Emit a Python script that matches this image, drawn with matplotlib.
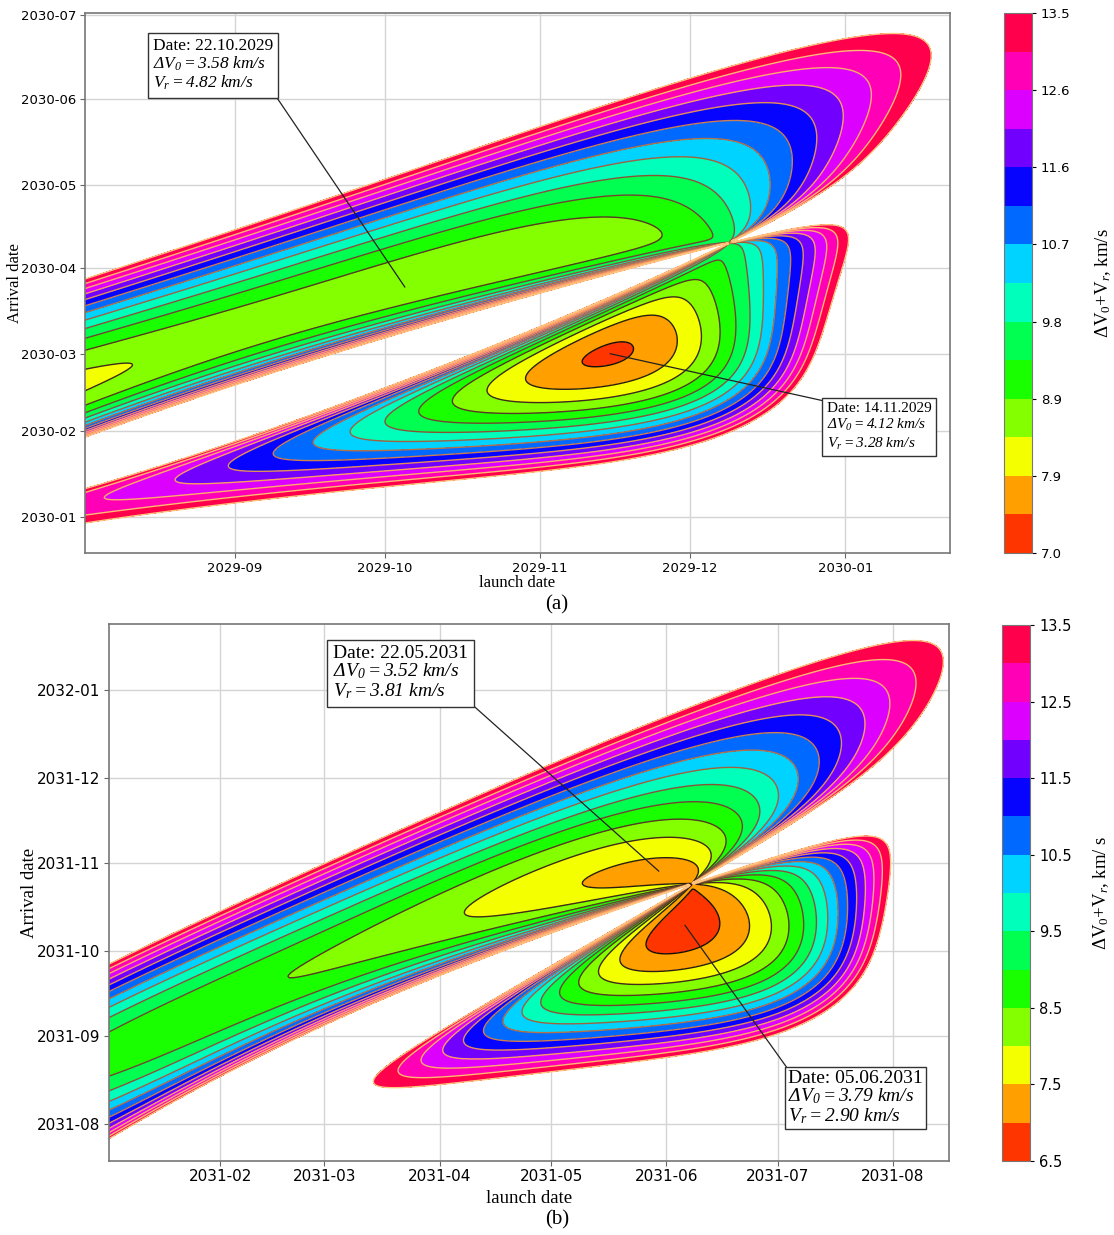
import numpy as np
import matplotlib
matplotlib.use('Agg')
import matplotlib.pyplot as plt
import matplotlib.dates as mdates

plt.rcParams['mathtext.fontset'] = 'custom'
plt.rcParams['mathtext.rm'] = 'Liberation Serif'
plt.rcParams['mathtext.it'] = 'Liberation Serif:italic'
plt.rcParams['mathtext.bf'] = 'Liberation Serif:italic'  # used for the all-italic note lines
plt.rcParams['font.size'] = 10

#### chart data (ranges, levels, ticks and labels)
launch_a = ['2029-08-02', '2030-01-22']
arrival_a = ['2029-12-19', '2030-07-02']
launch_b = ['2031-01-02', '2031-08-16']
arrival_b = ['2031-07-19', '2032-01-24']

levels_a = np.linspace(7.0, 13.5, 15)
levels_b = np.linspace(6.5, 13.5, 15)
cbar_ticks_a = np.linspace(7.0, 13.5, 8)
cbar_labels_a = ['7.0', '7.9', '8.9', '9.8', '10.7', '11.6', '12.6', '13.5']
cbar_ticks_b = np.linspace(6.5, 13.5, 8)
cbar_labels_b = ['6.5', '7.5', '8.5', '9.5', '10.5', '11.5', '12.5', '13.5']

# annotation boxes: (date, dV0, Vr), pointed launch date, pointed arrival date
notes_a = [('22.10.2029', '3.58', '4.82', '2029-10-05', '2030-03-25'),
           ('14.11.2029', '4.12', '3.28', '2029-11-15', '2030-03-01')]
notes_b = [('22.05.2031', '3.52', '3.81', '2031-05-30', '2031-10-29'),
           ('05.06.2031', '3.79', '2.90', '2031-06-06', '2031-10-10')]

#### Earth -> Venus transfer, mean J2000 elements (a AU, e, I, L, long.peri, long.node) and rates per century
earth_el = [1.00000261, 0.01671123, -0.00001531, 100.46457166, 102.93768193, 0.0]
earth_rate = [0.00000562, -0.00004392, -0.01294668, 35999.37244981, 0.32327364, 0.0]
venus_el = [0.72333566, 0.00677672, 3.39467605, 181.97909950, 131.60246718, 76.67984255]
venus_rate = [0.00000390, -0.00004107, -0.00078890, 58517.81538729, 0.00268329, -0.27769418]

MU_SUN = 1.32712440018e11  # km^3/s^2
MU_EARTH = 398600.4418
AU = 1.495978707e8
R_PARK = 6378.14 + 200.0   # parking orbit radius, km
DAY = 86400.0
JD_EPOCH = 2440587.5       # julian date of matplotlib day 0


def planet_state(el, rate, jd):
    T = (jd - 2451545.0) / 36525.0
    a, e, inc, L, wbar, node = [el[k] + rate[k] * T for k in range(6)]
    a = a * AU
    inc, L, wbar, node = np.radians(inc), np.radians(L), np.radians(wbar), np.radians(node)
    w = wbar - node
    M = np.mod(L - wbar, 2 * np.pi)
    E = M.copy()
    for _ in range(10):
        E = E - (E - e * np.sin(E) - M) / (1 - e * np.cos(E))
    n = np.sqrt(MU_SUN / a**3)
    Edot = n / (1 - e * np.cos(E))
    xp, yp = a * (np.cos(E) - e), a * np.sqrt(1 - e**2) * np.sin(E)
    vxp, vyp = -a * np.sin(E) * Edot, a * np.sqrt(1 - e**2) * np.cos(E) * Edot
    cO, sO, cw, sw, ci, si = np.cos(node), np.sin(node), np.cos(w), np.sin(w), np.cos(inc), np.sin(inc)
    P = np.stack([cO * cw - sO * sw * ci, sO * cw + cO * sw * ci, sw * si], -1)
    Q = np.stack([-cO * sw - sO * cw * ci, -sO * sw + cO * cw * ci, cw * si], -1)
    r = xp[:, None] * P + yp[:, None] * Q
    v = vxp[:, None] * P + vyp[:, None] * Q
    return r, v


def stumpff(z):
    with np.errstate(all='ignore'):
        sp = np.sqrt(np.abs(z))
        C = np.where(z > 1e-8, (1 - np.cos(sp)) / z, np.where(z < -1e-8, (np.cosh(sp) - 1) / (-z), 0.5))
        S = np.where(z > 1e-8, (sp - np.sin(sp)) / sp**3, np.where(z < -1e-8, (np.sinh(sp) - sp) / sp**3, 1 / 6))
    return C, S


def lambert(r1, r2, tof):
    # universal variable solution, prograde, single revolution
    r1n, r2n = np.linalg.norm(r1, axis=-1), np.linalg.norm(r2, axis=-1)
    cosd = np.clip(np.sum(r1 * r2, -1) / (r1n * r2n), -1, 1)
    cz = r1[..., 0] * r2[..., 1] - r1[..., 1] * r2[..., 0]
    dnu = np.where(cz >= 0, np.arccos(cosd), 2 * np.pi - np.arccos(cosd))
    A = np.sin(dnu) * np.sqrt(r1n * r2n / (1 - cosd))
    lo = np.full(A.shape, -200.0)
    hi = np.full(A.shape, 4 * np.pi**2 - 1e-6)
    with np.errstate(all='ignore'):
        for _ in range(70):
            z = 0.5 * (lo + hi)
            C, S = stumpff(z)
            y = r1n + r2n + A * (z * S - 1) / np.sqrt(C)
            F = (np.abs(y) / C)**1.5 * S + A * np.sqrt(np.abs(y)) - np.sqrt(MU_SUN) * tof
            F = np.where(y < 0, -1.0, F)
            lo = np.where(F < 0, z, lo)
            hi = np.where(F >= 0, z, hi)
        z = 0.5 * (lo + hi)
        C, S = stumpff(z)
        y = r1n + r2n + A * (z * S - 1) / np.sqrt(C)
        f, g, gd = 1 - y / r1n, A * np.sqrt(y / MU_SUN), 1 - y / r2n
        v1 = (r2 - f[..., None] * r1) / g[..., None]
        v2 = (gd[..., None] * r2 - r1) / g[..., None]
    return v1, v2


def porkchop(launch_rng, arrival_rng, n=420):
    # dV0 from a 200 km parking orbit + arrival relative speed, on a launch x arrival grid
    tl = np.linspace(mdates.datestr2num(launch_rng[0]), mdates.datestr2num(launch_rng[1]), n)
    ta = np.linspace(mdates.datestr2num(arrival_rng[0]), mdates.datestr2num(arrival_rng[1]), n)
    rE, vE = planet_state(earth_el, earth_rate, tl + JD_EPOCH)
    rV, vV = planet_state(venus_el, venus_rate, ta + JD_EPOCH)
    r1 = np.broadcast_to(rE[None, :, :], (n, n, 3))
    r2 = np.broadcast_to(rV[:, None, :], (n, n, 3))
    tof = (ta[:, None] - tl[None, :]) * DAY
    v1, v2 = lambert(r1, r2, tof)
    with np.errstate(all='ignore'):
        vinf1 = np.linalg.norm(v1 - vE[None, :, :], axis=-1)
        vinf2 = np.linalg.norm(v2 - vV[:, None, :], axis=-1)
        dv0 = np.sqrt(vinf1**2 + 2 * MU_EARTH / R_PARK) - np.sqrt(MU_EARTH / R_PARK)
        Z = dv0 + vinf2
    bad = ~np.isfinite(Z) | (tof < 15 * DAY)
    return tl, ta, np.where(bad, 99.0, np.minimum(Z, 99.0))


def draw_panel(ax, cax, launch_rng, arrival_rng, levels, cticks, clabels, notes, note_pos,
               cbar_text, tick_fs, label_fs, cbar_fs, xpad):
    tl, ta, Z = porkchop(launch_rng, arrival_rng)
    ax.set_axisbelow(True)
    ax.grid(True, color='#d4d4d4', lw=1.0)
    cf = ax.contourf(tl, ta, Z, levels=levels, cmap='hsv')
    ax.contour(tl, ta, Z, levels=levels, cmap='copper', linewidths=1.0)
    ax.set_xlim(tl[0], tl[-1])
    ax.set_ylim(ta[0], ta[-1])
    for a in (ax.xaxis, ax.yaxis):
        a.set_major_locator(mdates.MonthLocator())
        a.set_major_formatter(mdates.DateFormatter('%Y-%m'))
    ax.tick_params(labelsize=tick_fs, color='#666666', length=3.5, pad=2.5)
    for sp in ax.spines.values():
        sp.set_color('#777777')
        sp.set_linewidth(1.2)
    ax.set_xlabel('launch date', family='Liberation Serif', fontsize=label_fs, labelpad=xpad)
    ax.set_ylabel('Arrival date', family='Liberation Serif', fontsize=label_fs)

    for nt, (tx, ty, fs, ls, pad, rel) in zip(notes, note_pos):
        txt = 'Date: %s\n$\\mathbf{\\Delta V_0 = %s\\ km/s}$\n$\\mathbf{V_r = %s\\ km/s}$' % nt[:3]
        ax.annotate(txt, xy=(mdates.datestr2num(nt[3]), mdates.datestr2num(nt[4])),
                    xytext=(tx, ty), textcoords='axes fraction', ha='left', va='top',
                    family='Liberation Serif', fontsize=fs, linespacing=ls,
                    bbox=dict(boxstyle='square,pad=%s' % pad, fc='white', ec='#333333', lw=1.0),
                    arrowprops=dict(arrowstyle='-', color='#222222', lw=0.9, relpos=rel,
                                    shrinkA=0, shrinkB=0))

    cb = plt.colorbar(cf, cax=cax, ticks=cticks)
    cb.ax.set_yticklabels(clabels)
    cb.ax.tick_params(labelsize=cbar_fs, length=3)
    cb.outline.set_edgecolor('#777777')
    cax.text(3.55, 0.5, cbar_text, transform=cax.transAxes, rotation=90, ha='center', va='center',
             family='Liberation Serif', fontsize=13.5)


fig = plt.figure(figsize=(11.14, 12.35), dpi=100)
ax_a = fig.add_axes([84.6 / 1114, 1 - 553.3 / 1235, 865.8 / 1114, 540.6 / 1235])
cax_a = fig.add_axes([1004 / 1114, 1 - 553 / 1235, 28 / 1114, 540 / 1235])
ax_b = fig.add_axes([108.9 / 1114, 1 - 1160.7 / 1235, 839.8 / 1114, 536.4 / 1235])
cax_b = fig.add_axes([1002 / 1114, 1 - 1161 / 1235, 28 / 1114, 536 / 1235])

draw_panel(ax_a, cax_a, launch_a, arrival_a, levels_a, cbar_ticks_a, cbar_labels_a, notes_a,
           [(0.079, 0.953, 12.5, 1.05, 0.3, (1, 0)), (0.8575, 0.2806, 11, 1.2, 0.3, (0, 1))],
           '$\\Delta$V$_0$+V$_r$, km/s', 9.5, 12, 9.5, 0)
draw_panel(ax_b, cax_b, launch_b, arrival_b, levels_b, cbar_ticks_b, cbar_labels_b, notes_b,
           [(0.2672, 0.9618, 14, 1.0, 0.3, (1, 0)), (0.809, 0.1698, 14, 1.0, 0.15, (0, 1))],
           '$\\Delta$V$_0$+V$_r$, km/ s', 11, 13.5, 10.5, 4)
ax_a.yaxis.set_label_coords(-0.071, 0.5)
ax_b.yaxis.set_label_coords(-0.085, 0.5)

fig.text(0.5, 1 - 605 / 1235, '(a)', ha='center', va='center', family='Liberation Serif', fontsize=15)
fig.text(0.5, 1 - 1220 / 1235, '(b)', ha='center', va='center', family='Liberation Serif', fontsize=15)

fig.savefig('out.png', dpi=100)
